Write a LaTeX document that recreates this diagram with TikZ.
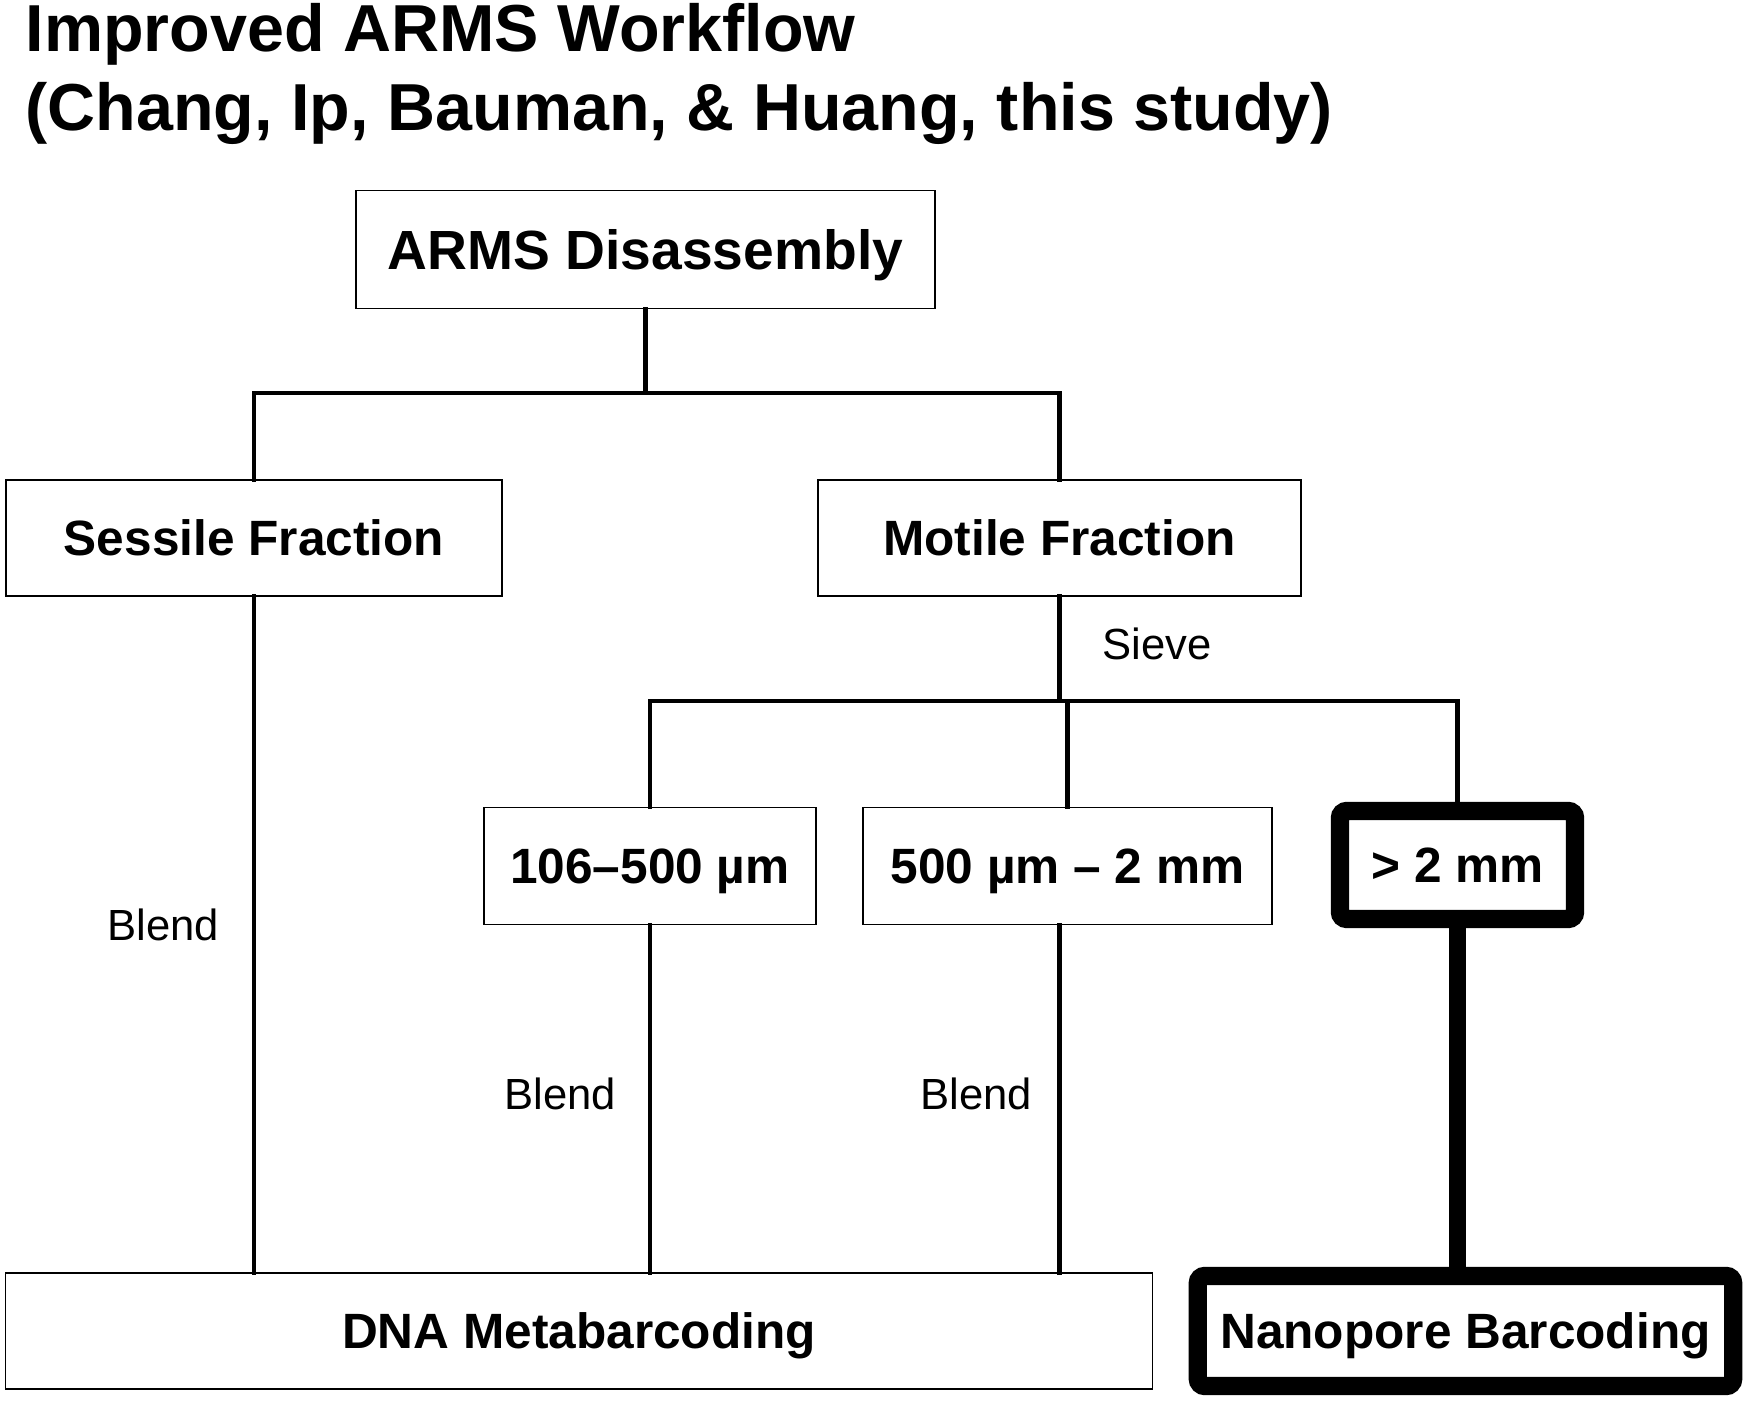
\documentclass[tikz,border=0pt]{standalone}
\usepackage{fontspec}
\setmainfont{Liberation Sans}
\usepackage{tikz}
\usetikzlibrary{positioning,calc}

\begin{document}
\begin{tikzpicture}[
    x=0.01cm, y=-0.01cm,
    box/.style = {
        rectangle,
        draw=black,
        line width=0.45pt,
        inner sep=0pt,
        align=center,
        font=\fontsize{14.1}{17}\selectfont\bfseries,
        text height=10.1pt,
        text depth=0pt,
        minimum height=1.16cm
    },
    topbox/.style  = {box, font=\fontsize{15.7}{19}\selectfont\bfseries, text height=11.2pt},
    heavybox/.style = {box, line width=5.2pt, rounded corners=2pt},
    link/.style      = {draw=black, line width=1.35pt, line cap=rect},
    heavylink/.style = {draw=black, line width=5pt},
    steplabel/.style = {font=\fontsize{12.4}{15}\selectfont, inner sep=0pt},
    titletext/.style = {anchor=base west, inner sep=0pt, font=\fontsize{18.9}{22}\selectfont\bfseries}
]

\useasboundingbox (0,0) rectangle (1750,1401);

% Title
\node[titletext] (title1) at (25,52)  {Improved ARMS Workflow};
\node[titletext] (title2) at (25,131) {(Chang, Ip, Bauman, \& Huang, this study)};

% Row 1
\node[topbox, minimum width=5.79cm, minimum height=1.18cm] (arms) at (645.5,249.5) {ARMS Disassembly};

% Row 2: the two fractions
\node[box, minimum width=4.96cm] (sessile) at (254,538)    {Sessile Fraction};
\node[box, minimum width=4.83cm] (motile)  at (1059.5,538) {Motile Fraction};

% Row 3: sieve sizes
\node[box, minimum width=3.32cm, minimum height=1.17cm] (small)  at (650,866)    {106–500 µm};
\node[box, minimum width=4.09cm, minimum height=1.17cm] (medium) at (1067.5,866) {500 µm – 2 mm};
\node[heavybox, minimum width=2.35cm, minimum height=1.08cm] (large) at (1457.5,865) {> 2 mm};

% Row 4: analyses
\node[box, minimum width=11.46cm] (dna) at (579,1331) {DNA Metabarcoding};
\node[heavybox, minimum width=5.35cm, minimum height=1.10cm] (nano) at (1465.5,1331) {Nanopore Barcoding};

% Junctions
\coordinate (split1) at (645.5,393);
\coordinate (split2) at (1059.5,701);

% Disassembly -> fractions
\draw[link] (arms.south) -- (split1);
\draw[link] (sessile.north) |- (split1) -| (motile.north);

% Motile fraction -> sieve
\draw[link] (motile.south) -- (split2);
\draw[link] (small.north) |- (split2) -| (large.north);
\draw[link] (split2 -| medium.north) -- (medium.north);
\node[steplabel] (sieve) at (1157,644) {Sieve};

% Down to the analyses
\draw[link] (sessile.south) -- (sessile.south |- dna.north);
\draw[link] (small.south) -- (small.south |- dna.north);
\draw[link] (medium.south -| split2) -- (split2 |- dna.north);
\draw[heavylink] (large.south) -- (large.south |- nano.north);

\node[steplabel] (blend1) at (163,925)  {Blend};
\node[steplabel] (blend2) at (560,1094) {Blend};
\node[steplabel] (blend3) at (976,1094) {Blend};

\end{tikzpicture}
\end{document}
